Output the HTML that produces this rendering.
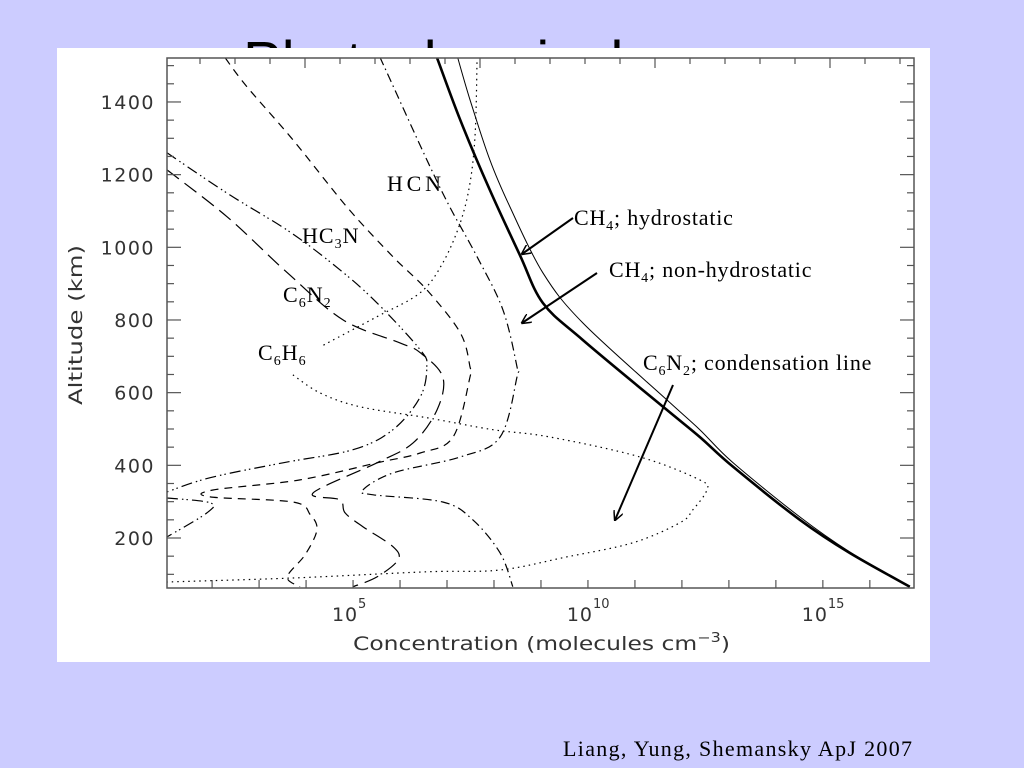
<!DOCTYPE html>
<html><head><meta charset="utf-8">
<style>
html,body{margin:0;padding:0;}
body{width:1024px;height:768px;background:#ccccff;position:relative;overflow:hidden;}
#title{position:absolute;left:243px;top:29px;font:58px "Liberation Sans",sans-serif;color:#000;white-space:nowrap;}
#panel{position:absolute;left:57px;top:48px;width:873px;height:614px;background:#fff;}
svg{position:absolute;left:0;top:0;}
</style></head>
<body>
<div id="title">Photochemical</div>
<div id="panel"></div>
<svg id="chart" width="1024" height="768"></svg>
<script>
// data: [log10 concentration, altitude km]
const ch4NonHydro=[[6.79,1521],[7.28,1351],[7.91,1158],[8.55,979],[9.04,847],[9.89,745],[11.6,561],[12.38,478],[13.09,396],[14.51,250],[15.57,159],[16.85,66]];
const ch4Hydro=[[7.23,1521],[7.49,1406],[7.91,1241],[8.34,1111],[9.04,930],[9.89,792],[11.68,580],[12.38,498],[13.09,407],[14.51,258],[15.57,162],[16.85,66]];
const hcn=[[5.57,1524],[6.57,1241],[7.06,1111],[7.64,974],[8.19,828],[8.49,671],[8.49,643],[8.13,478],[7.28,423],[5.85,379],[5.21,332],[5.43,319],[6.91,299],[7.55,250],[8.13,159],[8.4,66]];
const hc3n=[[1.04,1260],[2.38,1144],[3.66,1042],[4.72,938],[5.51,847],[6.43,718],[6.57,671],[6.43,588],[5.85,498],[5.0,443],[3.51,407],[1.96,366],[1.04,327]];
const hc3nLow=[[1.04,310],[1.96,297],[1.89,269],[1.04,203]];
const c6n2=[[1.04,1213],[2.32,1084],[3.6,930],[4.79,800],[6.0,737],[6.43,710],[6.91,643],[6.79,553],[6.28,462],[5.51,407],[4.15,324],[4.72,305],[4.83,269],[5.21,231],[5.85,176],[5.96,140],[5.51,93],[5.0,66]];
const c6n2Cond=[[2.28,1521],[2.74,1442],[3.72,1296],[4.87,1111],[5.85,974],[6.57,883],[7.28,765],[7.49,671],[7.49,643],[7.13,478],[6.43,434],[5.51,407],[3.87,360],[2.02,332],[1.96,313],[3.72,299],[4.09,264],[4.23,222],[3.98,154],[3.6,93],[3.87,66]];
const c6h6Upper=[[7.64,1524],[7.6,1315],[7.49,1177],[7.28,1067],[6.91,957],[6.43,875],[5.51,809],[4.3,726]];
const c6h6Lower=[[3.72,649],[4.3,599],[5.15,561],[6.57,531],[7.98,498],[9.19,478],[11.11,423],[12.38,360],[12.53,332],[12.23,277],[11.96,242],[10.96,187],[9.55,148],[8.13,112],[6.57,107],[3.72,90],[1.04,79]];
const yTickVals=[200,400,600,800,1000,1200,1400];
const xTickExps=[5,10,15];

const NS="http://www.w3.org/2000/svg";
const svg=document.getElementById('chart');
const L=167,R=914,T=58,B=588;
const xMin=1.04,xMax=16.94,yMin=62.4,yMax=1521;
function xs(v){return L+(v-xMin)/(xMax-xMin)*(R-L);}
function ys(v){return B-(v-yMin)/(yMax-yMin)*(B-T);}
function mk(tag,attrs){const e=document.createElementNS(NS,tag);for(const k in attrs)e.setAttribute(k,attrs[k]);svg.appendChild(e);return e;}
function smooth(pts){
  const p=pts.map(d=>[xs(d[0]),ys(d[1])]);
  let s='M'+p[0][0].toFixed(1)+','+p[0][1].toFixed(1);
  for(let i=0;i<p.length-1;i++){
    const p0=p[i-1]||p[i],p1=p[i],p2=p[i+1],p3=p[i+2]||p2;
    const c1=[p1[0]+(p2[0]-p0[0])/6,p1[1]+(p2[1]-p0[1])/6];
    const c2=[p2[0]-(p3[0]-p1[0])/6,p2[1]-(p3[1]-p1[1])/6];
    s+=' C'+c1.map(n=>n.toFixed(1))+' '+c2.map(n=>n.toFixed(1))+' '+p2.map(n=>n.toFixed(1));
  }
  return s;
}
const clip=mk('clipPath',{id:'pc'});
const cr=document.createElementNS(NS,'rect');cr.setAttribute('x',L);cr.setAttribute('y',T);cr.setAttribute('width',R-L);cr.setAttribute('height',B-T);clip.appendChild(cr);

function series(pts,name,w,dash){
  const e=mk('path',{d:smooth(pts),fill:'none',stroke:'#000','stroke-width':w,'clip-path':'url(#pc)'});
  if(dash)e.setAttribute('stroke-dasharray',dash);
  
  
}
series(c6h6Upper,'c6h6-line-upper',1.2,'1.5,4');
series(c6h6Lower,'c6h6-line-lower',1.2,'1.5,4');
series(hcn,'hcn-line',1.2,'9,4,1.5,4');
series(hc3n,'hc3n-line',1.2,'11,4,1.5,3,1.5,4');
series(hc3nLow,'hc3n-line-low',1.2,'11,4,1.5,3,1.5,4');
series(c6n2,'c6n2-line',1.2,'15,7');
series(c6n2Cond,'c6n2-condensation-line',1.2,'8,6');
series(ch4Hydro,'ch4-hydrostatic-line',1,null);
series(ch4NonHydro,'ch4-nonhydrostatic-line',2.6,null);

const fr=mk('rect',{x:L,y:T,width:R-L,height:B-T,fill:'none',stroke:'#555','stroke-width':1.5});


for(let a=100;a<=1500;a+=50){
  const y=ys(a),len=(a%200===0)?14:7;
  mk('line',{x1:L,x2:L+len,y1:y,y2:y,stroke:'#555','stroke-width':1.2});
  mk('line',{x1:R,x2:R-len,y1:y,y2:y,stroke:'#555','stroke-width':1.2});
}
yTickVals.forEach(v=>{
  const t=mk('text',{x:155,y:ys(v)+7,'text-anchor':'end','font-family':'DejaVu Sans, sans-serif','font-size':19,'letter-spacing':1.5,fill:'#333'});
  t.textContent=v;
  
  
});
for(let d=2;d<=16;d++){
  const x=xs(d);
  mk('line',{x1:x,x2:x,y1:B,y2:B-8,stroke:'#555','stroke-width':1.2});
}
for(let x=200;x<R;x+=35){
  const len=((x-305)%175===0)?10:6;
  mk('line',{x1:x,x2:x,y1:T,y2:T+len,stroke:'#555','stroke-width':1.2});
}
xTickExps.forEach(e=>{
  const t=mk('text',{x:xs(e)-8,y:621,'text-anchor':'middle','font-family':'DejaVu Sans, sans-serif','font-size':19,'letter-spacing':1,fill:'#333'});
  t.textContent='10';
  
  
  const s=mk('text',{x:xs(e)+5,y:608,'font-family':'DejaVu Sans, sans-serif','font-size':13,fill:'#333'});
  s.textContent=e;
  
  
});
</script>
<svg width="1024" height="768" style="position:absolute;left:0;top:0">
<defs><marker id="ah" markerWidth="10" markerHeight="10" refX="9" refY="5" orient="auto" markerUnits="userSpaceOnUse"><path d="M0,0 L10,5 L0,10" fill="none" stroke="#000" stroke-width="1.5"/></marker></defs>
<text x="353" y="650" textLength="377" lengthAdjust="spacingAndGlyphs" font-family="DejaVu Sans, sans-serif" font-size="19" fill="#333">Concentration  (molecules cm<tspan dy="-8" font-size="13">−3</tspan><tspan dy="8">)</tspan></text>
<text transform="translate(82,405) rotate(-90)" textLength="160" lengthAdjust="spacingAndGlyphs" font-family="DejaVu Sans, sans-serif" font-size="19" fill="#333">Altitude  (km)</text>
<g font-family="Liberation Serif, serif" font-size="22" fill="#000">
<text x="387" y="191" textLength="54">HCN</text>
<text x="302" y="243" letter-spacing="1">HC<tspan font-size="14" dy="5">3</tspan><tspan dy="-5">N</tspan></text>
<text x="283" y="302" letter-spacing="1">C<tspan font-size="14" dy="5">6</tspan><tspan dy="-5">N</tspan><tspan font-size="14" dy="5">2</tspan></text>
<text x="258" y="360" letter-spacing="1">C<tspan font-size="14" dy="5">6</tspan><tspan dy="-5">H</tspan><tspan font-size="14" dy="5">6</tspan></text>
<text x="574" y="225" letter-spacing="0.8">CH<tspan font-size="14" dy="5">4</tspan><tspan dy="-5">; hydrostatic</tspan></text>
<text x="609" y="277" letter-spacing="0.8">CH<tspan font-size="14" dy="5">4</tspan><tspan dy="-5">; non-hydrostatic</tspan></text>
<text x="643" y="370" letter-spacing="0.8">C<tspan font-size="14" dy="5">6</tspan><tspan dy="-5">N</tspan><tspan font-size="14" dy="5">2</tspan><tspan dy="-5">; condensation line</tspan></text>
<text x="563" y="756" textLength="349" font-size="22">Liang, Yung, Shemansky ApJ 2007</text>
</g>
<line x1="573" y1="218" x2="522" y2="254" stroke="#000" stroke-width="2" marker-end="url(#ah)"/>
<line x1="597" y1="273" x2="522" y2="323" stroke="#000" stroke-width="2" marker-end="url(#ah)"/>
<line x1="673" y1="385" x2="615" y2="520" stroke="#000" stroke-width="2" marker-end="url(#ah)"/>
</svg>
</body></html>
